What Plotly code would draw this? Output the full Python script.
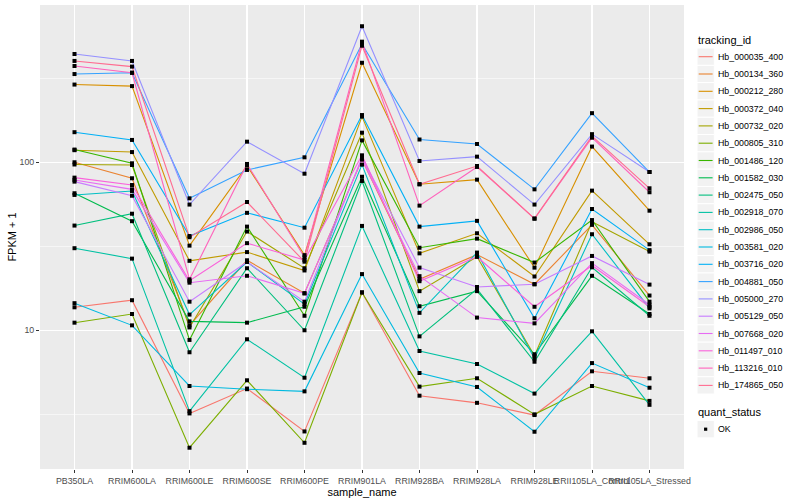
import plotly.graph_objects as go

samples = ["PB350LA", "RRIM600LA", "RRIM600LE", "RRIM600SE", "RRIM600PE", "RRIM901LA",
           "RRIM928BA", "RRIM928LA", "RRIM928LE", "RRII105LA_Control", "RRII105LA_Stressed"]

tracking_ids = ["Hb_000035_400", "Hb_000134_360", "Hb_000212_280", "Hb_000372_040",
                "Hb_000732_020", "Hb_000805_310", "Hb_001486_120", "Hb_001582_030",
                "Hb_002475_050", "Hb_002918_070", "Hb_002986_050", "Hb_003581_020",
                "Hb_003716_020", "Hb_004881_050", "Hb_005000_270", "Hb_005129_050",
                "Hb_007668_020", "Hb_011497_010", "Hb_113216_010", "Hb_174865_050"]

# FPKM + 1 values per tracking_id, in sample order
Hb_000035_400 = [13.7, 15.1, 3.2, 4.5, 2.5, 16.8, 4.08, 3.7, 3.13, 5.7, 5.18]
Hb_000134_360 = [100, 80.3, 10.7, 26.1, 16.6, 104, 20.1, 28.2, 18.8, 42.4, 16.1]
Hb_000212_280 = [290, 284, 31.9, 95.5, 28.0, 391, 74, 78.8, 23.6, 124, 51.5]
Hb_000372_040 = [118, 115, 25.9, 29.2, 22.7, 187, 28.7, 37.8, 20.9, 67.8, 32.5]
Hb_000732_020 = [97, 96.3, 10.4, 38.7, 23.4, 150, 17.1, 27.4, 7.05, 44.3, 29.4]
Hb_000805_310 = [11.1, 12.5, 2.0, 5.04, 2.14, 16.8, 4.62, 5.18, 3.16, 4.66, 3.8]
Hb_001486_120 = [119, 98.6, 8.76, 41.4, 12.2, 135, 31, 35.1, 25.3, 45.3, 14.8]
Hb_001582_030 = [65.4, 44.6, 11.3, 11.1, 13.8, 82, 13.9, 17.1, 7.2, 21.1, 12.5]
Hb_002475_050 = [42, 49.4, 7.4, 23.4, 10.0, 77.4, 9.2, 17.6, 6.5, 23.7, 12.2]
Hb_002918_070 = [30.8, 26.7, 3.3, 8.84, 5.22, 41.8, 7.53, 6.3, 4.2, 9.86, 3.6]
Hb_002986_050 = [63.9, 67.5, 12.4, 25.5, 14.3, 96.8, 12.7, 29, 6.8, 37.3, 13.5]
Hb_003581_020 = [14.5, 10.7, 4.66, 4.46, 4.33, 21.6, 5.57, 4.6, 2.49, 6.38, 4.55]
Hb_003716_020 = [151, 135.8, 36.4, 50, 40.8, 191, 41.4, 44.8, 11.8, 52.7, 30.0]
Hb_004881_050 = [335, 341, 61, 90, 107, 506, 136.6, 128.5, 69, 196, 87.5]
Hb_005000_270 = [441, 401, 56, 132.6, 85.5, 645, 101.8, 108, 56, 147, 87.5]
Hb_005129_050 = [76.7, 63.2, 14.8, 25.5, 14.8, 107, 23.6, 18.1, 18.8, 27.7, 18.7]
Hb_007668_020 = [78.5, 69, 19.2, 21.1, 16.6, 104, 21, 11.9, 11.0, 25.1, 14.2]
Hb_011497_010 = [81, 73.2, 19.7, 33, 26.2, 110, 19.6, 27.4, 13.8, 24.3, 13.8]
Hb_113216_010 = [374, 341, 20.1, 97.7, 27.2, 522, 55.2, 93.8, 46.2, 140, 66.3]
Hb_174865_050 = [401, 371, 35.8, 58, 25.6, 494, 74, 95, 46.2, 143, 70]

series = [Hb_000035_400, Hb_000134_360, Hb_000212_280, Hb_000372_040, Hb_000732_020,
          Hb_000805_310, Hb_001486_120, Hb_001582_030, Hb_002475_050, Hb_002918_070,
          Hb_002986_050, Hb_003581_020, Hb_003716_020, Hb_004881_050, Hb_005000_270,
          Hb_005129_050, Hb_007668_020, Hb_011497_010, Hb_113216_010, Hb_174865_050]

quant_status = "OK"

y_ticks = [10, 100]
y_tick_labels = ["10", "100"]

# ggplot2 default hue palette for 20 levels
colors = ["#F8766D", "#EA8331", "#D89000", "#C09B00", "#A3A500", "#7CAE00", "#39B600",
          "#00BB4E", "#00BF7D", "#00C1A3", "#00BFC4", "#00BAE0", "#00B0F6", "#35A2FF",
          "#9590FF", "#C77CFF", "#E76BF3", "#FA62DB", "#FF62BC", "#FF6C91"]

FONT = "Liberation Sans, Arial, sans-serif"
W, H = 800, 500
ML, MR, MT, MB = 40, 116, 5, 31
PW, PH = W - ML - MR, H - MT - MB

fig = go.Figure()

for tid, vals, col in zip(tracking_ids, series, colors):
    fig.add_trace(go.Scatter(x=samples, y=vals, mode="lines", name=tid,
                             line=dict(color=col, width=1.1), showlegend=False,
                             hoverinfo="skip"))

# points on top (quant_status)
all_x, all_y = [], []
for vals in series:
    all_x += samples
    all_y += vals
fig.add_trace(go.Scatter(x=all_x, y=all_y, mode="markers", name=quant_status,
                         marker=dict(color="black", symbol="square", size=4,
                                     line=dict(width=0)),
                         showlegend=False))

# ---- manual ggplot-style legend (pixel layout converted to paper coords)
def px(xp):
    return (xp - ML) / PW

def py(yp):
    return (H - MB - yp) / PH

shapes = []
annotations = []
LX = 697.0          # key left
KEY = 17.3          # key size
TXT_X = 716.0
first_c = 56.7

annotations.append(dict(x=px(LX - 1.5), y=py(40.5), xref="paper", yref="paper",
                        text="tracking_id", showarrow=False, xanchor="left",
                        yanchor="middle", font=dict(size=11, color="black", family=FONT)))
for i, (tid, col) in enumerate(zip(tracking_ids, colors)):
    c = first_c + KEY * i
    shapes.append(dict(type="rect", xref="paper", yref="paper",
                       x0=px(LX), x1=px(LX + KEY), y0=py(c - KEY / 2), y1=py(c + KEY / 2),
                       fillcolor="#F2F2F2", line=dict(color="white", width=1), layer="below"))
    shapes.append(dict(type="line", xref="paper", yref="paper",
                       x0=px(LX + 1.7), x1=px(LX + KEY - 1.7), y0=py(c), y1=py(c),
                       line=dict(color=col, width=1.1)))
    annotations.append(dict(x=px(TXT_X), y=py(c), xref="paper", yref="paper",
                            text=tid, showarrow=False, xanchor="left", yanchor="middle",
                            font=dict(size=8.8, color="black", family=FONT)))

qs_title = 412.3
qs_c = 429.2
annotations.append(dict(x=px(LX - 1.5), y=py(qs_title), xref="paper", yref="paper",
                        text="quant_status", showarrow=False, xanchor="left",
                        yanchor="middle", font=dict(size=11, color="black", family=FONT)))
shapes.append(dict(type="rect", xref="paper", yref="paper",
                   x0=px(LX), x1=px(LX + KEY), y0=py(qs_c - KEY / 2), y1=py(qs_c + KEY / 2),
                   fillcolor="#F2F2F2", line=dict(color="white", width=1), layer="below"))
shapes.append(dict(type="rect", xref="paper", yref="paper",
                   x0=px(LX + KEY / 2 - 1.6), x1=px(LX + KEY / 2 + 1.6),
                   y0=py(qs_c - 1.6), y1=py(qs_c + 1.6),
                   fillcolor="black", line=dict(width=0)))
annotations.append(dict(x=px(TXT_X), y=py(qs_c), xref="paper", yref="paper",
                        text=quant_status, showarrow=False, xanchor="left", yanchor="middle",
                        font=dict(size=8.8, color="black", family=FONT)))

fig.update_layout(
    width=W, height=H,
    margin=dict(l=ML, r=MR, t=MT, b=MB, autoexpand=False),
    paper_bgcolor="white",
    plot_bgcolor="#EBEBEB",
    font=dict(family=FONT, size=8.8, color="#4D4D4D"),
    showlegend=False,
    hovermode=False,
    shapes=shapes,
    annotations=annotations,
    xaxis=dict(
        type="category", categoryorder="array", categoryarray=samples,
        range=[-0.6, len(samples) - 0.4],
        showgrid=True, gridcolor="white", gridwidth=1.1,
        zeroline=False, showline=False,
        ticks="outside", ticklen=3, tickwidth=1, tickcolor="#333333",
        tickangle=0, tickfont=dict(size=8.8, color="#4D4D4D", family=FONT),
        title=dict(text="sample_name", font=dict(size=11, color="black", family=FONT),
                   standoff=2),
        automargin=False,
    ),
    yaxis=dict(
        type="log", range=[0.1744, 2.936],
        tickmode="array", tickvals=y_ticks, ticktext=y_tick_labels,
        showgrid=True, gridcolor="white", gridwidth=1.1,
        minor=dict(tickmode="array", tickvals=[10 ** 0.5, 10 ** 1.5, 10 ** 2.5],
                   showgrid=True, gridcolor="white", gridwidth=0.55, ticklen=0),
        zeroline=False, showline=False,
        ticks="outside", ticklen=3, tickwidth=1, tickcolor="#333333",
        tickfont=dict(size=8.8, color="#4D4D4D", family=FONT),
        title=dict(text="FPKM + 1", font=dict(size=11, color="black", family=FONT),
                   standoff=0),
        automargin=False,
    ),
)

fig.write_html("out.html",
               config={"displayModeBar": False, "staticPlot": True},
               post_script="document.body.style.margin='0';document.body.style.padding='0';"
                           "document.documentElement.style.overflow='hidden';")
